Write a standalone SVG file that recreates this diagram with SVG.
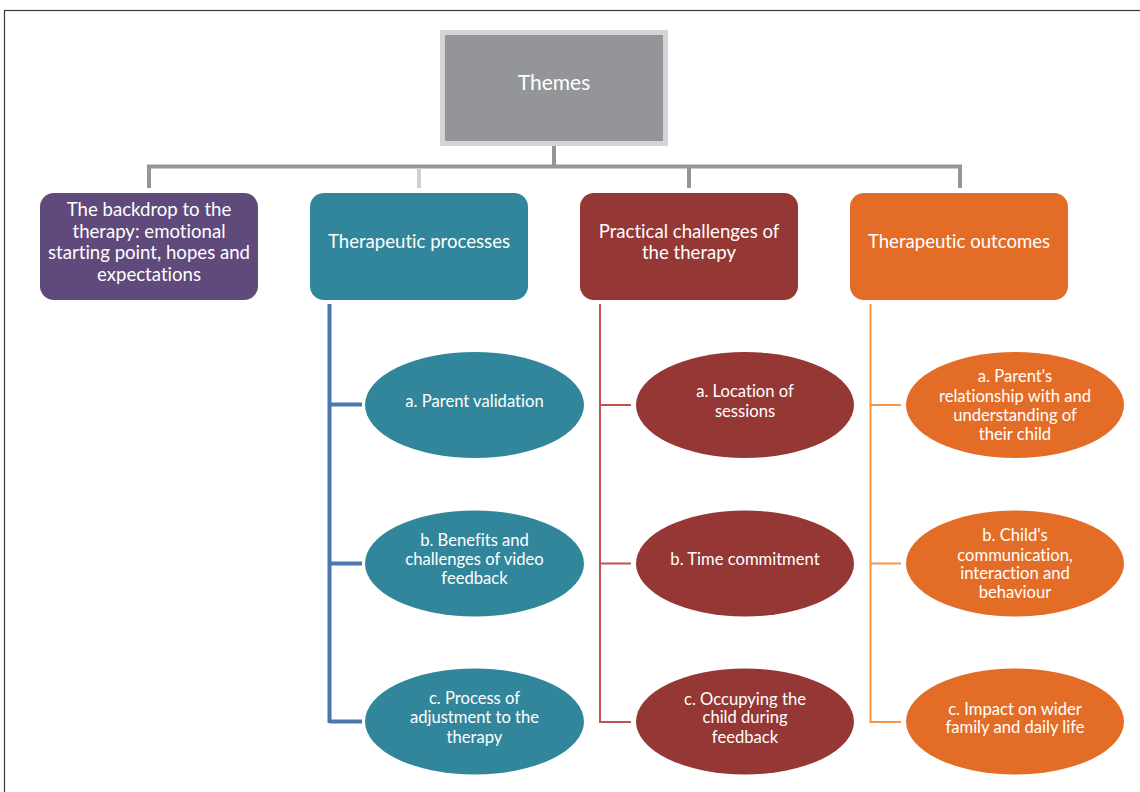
<svg xmlns="http://www.w3.org/2000/svg" width="1140" height="792" viewBox="0 0 1140 792">
<style>
.t{font-family:Lato,"Open Sans",sans-serif;fill:#fff;text-anchor:middle;font-variant-ligatures:none}
.bx{font-size:18.6px}
.el{font-size:16.6px}
.gray{stroke:#939598;stroke-width:4;fill:none}
</style>
<rect x="0" y="0" width="1140" height="792" fill="#fff"/>
<rect x="4.5" y="10.5" width="1150" height="800" fill="none" stroke="#3a3a3a" stroke-width="1.2"/>
<g id="connectors">
  <path class="gray" d="M554 146 V166.5 M147 166.5 H962 M149 166.5 V188 M689 166.5 V188 M960 166.5 V188"/>
  <path d="M419 168 V188" stroke="#cfd0d2" stroke-width="4" fill="none"/>
  <path d="M329.5 304 V723 M329.5 404.5 H362 M329.5 563.5 H362 M329.5 721.5 H362" stroke="#4a77ad" stroke-width="4" fill="none"/>
  <path d="M600 304 V722 H631 M600 405 H631 M600 563.5 H631" stroke="#c0504d" stroke-width="2" fill="none"/>
  <path d="M870.5 304 V722 H901 M870.5 405 H901 M870.5 563.5 H901" stroke="#f79646" stroke-width="2" fill="none"/>
</g>
<g id="themes">
  <rect x="442.5" y="32.5" width="223" height="111" fill="#939598" stroke="#d3d4d5" stroke-width="5"/>
  <text class="t" x="554" y="90" font-size="21">Themes</text>
</g>
<g id="backdrop">
  <rect x="40" y="193" width="218" height="107" rx="14" fill="#604a7b"/>
  <text class="t bx"><tspan x="149" y="216">The backdrop to the</tspan><tspan x="149" y="237.5">therapy: emotional</tspan><tspan x="149" y="259">starting point, hopes and</tspan><tspan x="149" y="280.5">expectations</tspan></text>
</g>
<g id="processes">
  <rect x="310" y="193" width="218" height="107" rx="14" fill="#31869b"/>
  <text class="t bx" x="419" y="248">Therapeutic processes</text>
</g>
<g id="practical">
  <rect x="580" y="193" width="218" height="107" rx="14" fill="#953735"/>
  <text class="t bx"><tspan x="689" y="237.5">Practical challenges of</tspan><tspan x="689" y="259">the therapy</tspan></text>
</g>
<g id="outcomes">
  <rect x="850" y="193" width="218" height="107" rx="14" fill="#e36d27"/>
  <text class="t bx" x="959" y="248">Therapeutic outcomes</text>
</g>
<g id="p-a">
  <ellipse cx="474.5" cy="405" rx="109.5" ry="53" fill="#31869b"/>
  <text class="t el" x="474.5" y="407">a. Parent validation</text>
</g>
<g id="p-b">
  <ellipse cx="474.5" cy="563.5" rx="109.5" ry="53" fill="#31869b"/>
  <text class="t el"><tspan x="474.5" y="545.5">b. Benefits and</tspan><tspan x="474.5" y="564.5">challenges of video</tspan><tspan x="474.5" y="583.5">feedback</tspan></text>
</g>
<g id="p-c">
  <ellipse cx="474.5" cy="721.5" rx="109.5" ry="53" fill="#31869b"/>
  <text class="t el"><tspan x="474.5" y="703.5">c. Process of</tspan><tspan x="474.5" y="723">adjustment to the</tspan><tspan x="474.5" y="742.5">therapy</tspan></text>
</g>
<g id="c-a">
  <ellipse cx="745" cy="405" rx="109" ry="53" fill="#953735"/>
  <text class="t el"><tspan x="745" y="397">a. Location of</tspan><tspan x="745" y="416.5">sessions</tspan></text>
</g>
<g id="c-b">
  <ellipse cx="745" cy="563.5" rx="109" ry="53" fill="#953735"/>
  <text class="t el" x="745" y="565">b. Time commitment</text>
</g>
<g id="c-c">
  <ellipse cx="745" cy="721.5" rx="109" ry="53" fill="#953735"/>
  <text class="t el"><tspan x="745" y="704.5">c. Occupying the</tspan><tspan x="745" y="723">child during</tspan><tspan x="745" y="742.5">feedback</tspan></text>
</g>
<g id="o-a">
  <ellipse cx="1015" cy="405" rx="109" ry="53" fill="#e36d27"/>
  <text class="t el"><tspan x="1015" y="382">a. Parent's</tspan><tspan x="1015" y="401.5">relationship with and</tspan><tspan x="1015" y="421">understanding of</tspan><tspan x="1015" y="440">their child</tspan></text>
</g>
<g id="o-b">
  <ellipse cx="1015" cy="563.5" rx="109" ry="53" fill="#e36d27"/>
  <text class="t el"><tspan x="1015" y="541">b. Child's</tspan><tspan x="1015" y="560.5">communication,</tspan><tspan x="1015" y="579">interaction and</tspan><tspan x="1015" y="598">behaviour</tspan></text>
</g>
<g id="o-c">
  <ellipse cx="1015" cy="721.5" rx="109" ry="53" fill="#e36d27"/>
  <text class="t el"><tspan x="1015" y="714.5">c. Impact on wider</tspan><tspan x="1015" y="733">family and daily life</tspan></text>
</g>
</svg>
